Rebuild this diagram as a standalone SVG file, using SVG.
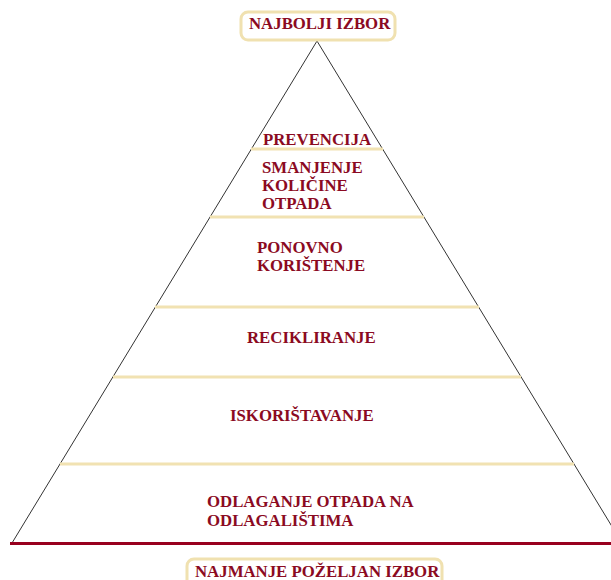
<svg xmlns="http://www.w3.org/2000/svg" width="611" height="580" viewBox="0 0 611 580">
<style>
.t{font-family:"Liberation Serif","Times New Roman",serif;font-weight:bold;font-size:16.8px;fill:#8B0A22}
.sep{stroke:#F1E2B2;stroke-width:3;fill:none}
.box{fill:#fff;stroke:#F0E1B0;stroke-width:3}
.edge{stroke:#333;stroke-width:1;fill:none}
</style>
<rect width="611" height="580" fill="#fff"/>
<g id="pyramid">
<polyline class="edge" points="12,543 317,41 622,543"/>
<line x1="10" y1="543.5" x2="611" y2="543.5" stroke="#98001E" stroke-width="3"/>
</g>
<g id="separators">
<line class="sep" x1="251" y1="149" x2="383" y2="149"/>
<line class="sep" x1="210" y1="217" x2="424" y2="217"/>
<line class="sep" x1="155" y1="307" x2="479" y2="307"/>
<line class="sep" x1="113" y1="377" x2="521" y2="377"/>
<line class="sep" x1="60" y1="464" x2="574" y2="464"/>
</g>
<g id="top">
<rect class="box" x="241" y="12" width="154" height="28" rx="7"/>
<text class="t" x="249" y="29">NAJBOLJI IZBOR</text>
</g>
<g id="prevencija"><text class="t" x="263" y="145">PREVENCIJA</text></g>
<g id="smanjenje">
<text class="t" x="262" y="173">SMANJENJE</text>
<text class="t" x="262" y="191">KOLIČINE</text>
<text class="t" x="262" y="209">OTPADA</text>
</g>
<g id="ponovno">
<text class="t" x="257" y="253">PONOVNO</text>
<text class="t" x="257" y="271">KORIŠTENJE</text>
</g>
<g id="recikliranje"><text class="t" x="247" y="343">RECIKLIRANJE</text></g>
<g id="iskoristavanje"><text class="t" x="230" y="421">ISKORIŠTAVANJE</text></g>
<g id="odlaganje">
<text class="t" x="207" y="507">ODLAGANJE OTPADA NA</text>
<text class="t" x="207" y="526">ODLAGALIŠTIMA</text>
</g>
<g id="bottom">
<rect class="box" x="187" y="559" width="255" height="30" rx="7"/>
<text class="t" x="195" y="577">NAJMANJE POŽELJAN IZBOR</text>
</g>
</svg>
